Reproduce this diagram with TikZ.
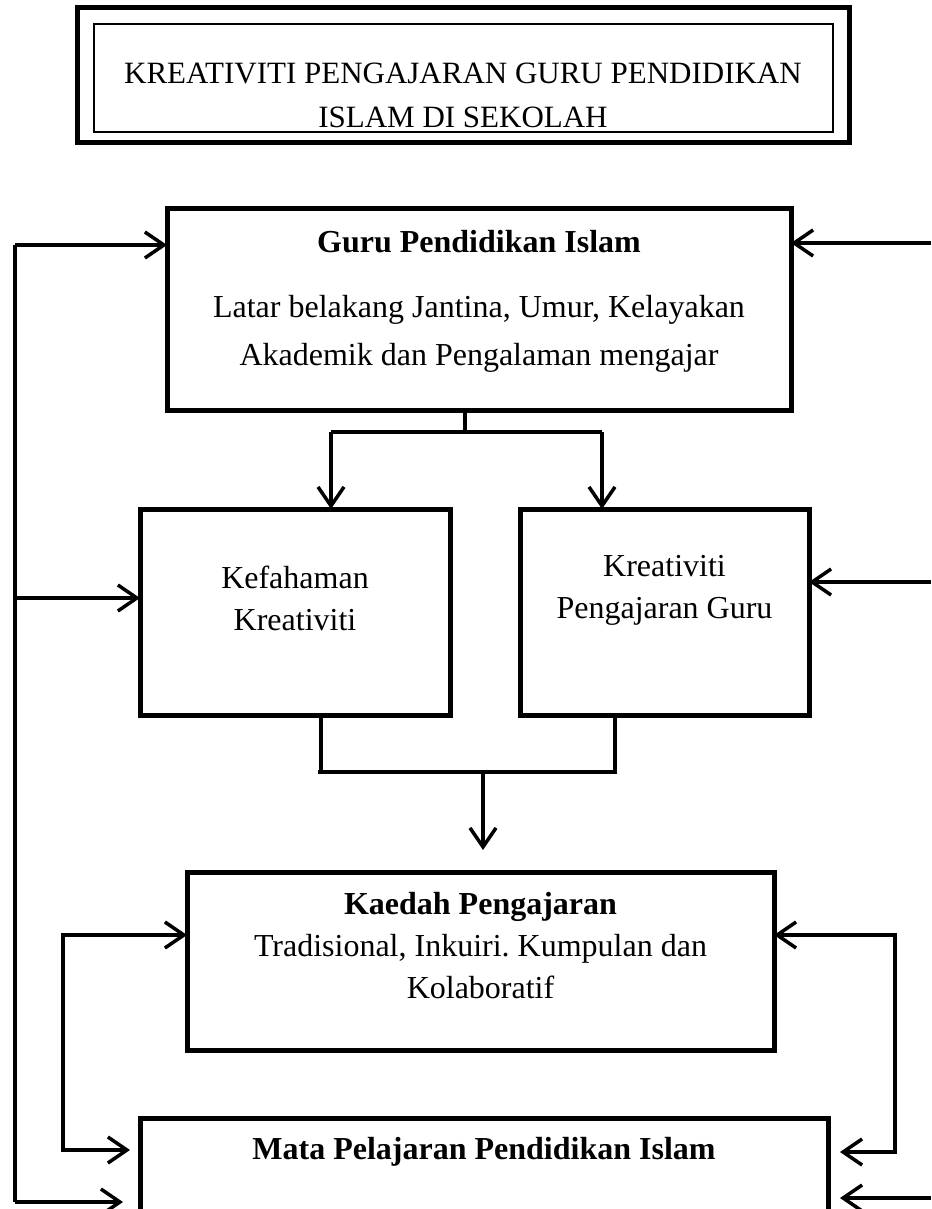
\documentclass[tikz,border=0pt]{standalone}
\usepackage{fontspec}
\setmainfont{Liberation Serif}
\frenchspacing
\usetikzlibrary{arrows.meta}
\tikzset{
  box/.style={draw, line width=5pt, outer sep=0pt, inner sep=0pt},
  txt/.style={align=center, inner sep=0pt, font=\bodyfont},
  arr/.style={line width=3.5pt, -{Straight Barb[length=19pt,width=26pt]}},
  darr/.style={line width=3.5pt, {Straight Barb[length=19pt,width=26pt]}-{Straight Barb[length=19pt,width=26pt]}},
  bar/.style={line width=4pt},
}
\newcommand{\titlefont}{\fontsize{31}{44}\selectfont}
\newcommand{\bodyfont}{\fontsize{32}{42}\selectfont}
\begin{document}
\begin{tikzpicture}[x=1pt,y=-1pt]
\useasboundingbox (0,0) rectangle (931,1209);
% judul
\node[box, minimum width=772, minimum height=135] (title) at (463,75.5) {};
\draw[line width=1.5pt] ([shift={(17,16)}]title.north west) rectangle ([shift={(-16,-11)}]title.south east);
\node[font=\titlefont, align=center] (titletext) at (463,95) {KREATIVITI PENGAJARAN GURU PENDIDIKAN\\ISLAM DI SEKOLAH};
% kotak
\node[box, minimum width=624, minimum height=202] (guru) at (479,309) {};
\node[txt, font=\fontsize{32}{48}\selectfont] (gurutext) at (479,301)
  {\textbf{Guru Pendidikan Islam}\\[17pt]Latar belakang Jantina, Umur, Kelayakan\\Akademik dan Pengalaman mengajar};
\node[box, minimum width=310, minimum height=206] (kef) at (295,612) {};
\node[txt] (keftext) at (295,598) {Kefahaman\\Kreativiti};
\node[box, minimum width=289, minimum height=206] (kre) at (664.5,612) {};
\node[txt] (kretext) at (664.5,590) {Kreativiti\\Pengajaran Guru};
\node[box, minimum width=587, minimum height=178] (kaedah) at (480.5,961) {};
\node[txt] (kaedahtext) at (480.5,946)
  {\textbf{Kaedah Pengajaran}\\Tradisional, Inkuiri. Kumpulan dan\\Kolaboratif};
\node[box, minimum width=688, minimum height=122] (mata) at (484,1179) {};
\node[txt, font=\bodyfont\bfseries] (matatext) at (484,1152) {Mata Pelajaran Pendidikan Islam};
% kiri
\coordinate (lg) at (15,245);
\coordinate (lk) at (15,598);
\coordinate (lb) at (15,1202);
\draw[line width=3.5pt] (lg) -- (lb);
\draw[arr] (lg) -- (lg -| guru.west);
\draw[arr] (lk) -- (lk -| kef.west);
\draw[arr] (lb) -- ([xshift=-17pt]lb -| mata.west);
% kanan
\coordinate (rg) at (931,243);
\coordinate (rk) at (931,582);
\coordinate (rb) at (931,1198);
\draw[arr] (rg) -- (rg -| guru.east);
\draw[arr] (rk) -- (rk -| kre.east);
\draw[arr] (rb) -- ([xshift=12pt]rb -| mata.east);
% cabang
\coordinate (gs) at (465,432);
\coordinate (bl) at (331,432);
\coordinate (br) at (602,432);
\draw[bar] (gs |- guru.south) -- (gs);
\draw[bar] (bl) -- (br);
\draw[arr] (bl) -- (bl |- kef.north);
\draw[arr] (br) -- (br |- kre.north);
% gabung
\coordinate (jl) at (321,772);
\coordinate (jr) at (615,772);
\coordinate (jm) at (483,772);
\draw[bar] (jl |- kef.south) -- (jl);
\draw[bar] (jr |- kre.south) -- (jr);
\draw[bar] ([xshift=-3pt]jl) -- ([xshift=2pt]jr);
\draw[arr] (jm) -- ++(0,78);
% kaedah - mata
\coordinate (kl) at (63,935);
\coordinate (ml) at (63,1150);
\coordinate (kr) at (895,935);
\coordinate (mr) at (895,1152);
\draw[darr] (kl -| kaedah.west) -- (kl) -- (ml) -- ([xshift=-10pt]ml -| mata.west);
\draw[darr] (kr -| kaedah.east) -- (kr) -- (mr) -- ([xshift=12pt]mr -| mata.east);
\end{tikzpicture}
\end{document}
